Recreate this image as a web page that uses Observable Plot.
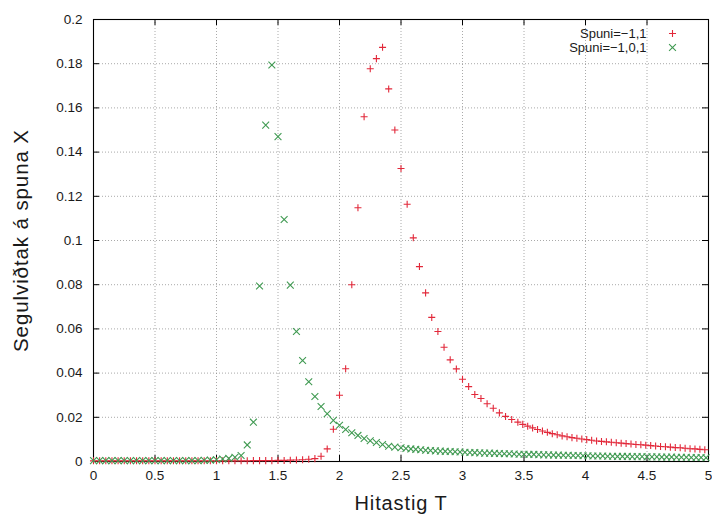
<!DOCTYPE html>
<html>
<head>
<meta charset="utf-8">
<script src="https://cdn.jsdelivr.net/npm/d3@7"></script>
<script src="https://cdn.jsdelivr.net/npm/@observablehq/plot@0.6"></script>
<style>
  html, body { margin: 0; padding: 0; background: #fff; }
  #chart { width: 712px; height: 515px; }
  .title-text { letter-spacing: 0.9px; }
</style>
</head>
<body>
<div id="chart"></div>
<script>
// Tick labels
const xTicks = [0, 0.5, 1, 1.5, 2, 2.5, 3, 3.5, 4, 4.5, 5];
const yTicks = [0, 0.02, 0.04, 0.06, 0.08, 0.1, 0.12, 0.14, 0.16, 0.18, 0.2];

// Series names
const seriesNames = ["Spuni=−1,1", "Spuni=−1,0,1"];
const xTitle = "Hitastig T";
const yTitle = "Segulviðtak á spuna X";

// Series 1: Spuni = -1,1 (red +)
const redT = [
  0, 0.05, 0.1, 0.15, 0.2, 0.25, 0.3, 0.35, 0.4, 0.45,
  0.5, 0.55, 0.6, 0.65, 0.7, 0.75, 0.8, 0.85, 0.9, 0.95,
  1, 1.05, 1.1, 1.15, 1.2, 1.25, 1.3, 1.35, 1.4,
  1.45, 1.5, 1.55, 1.6, 1.65, 1.7, 1.75,
  1.8, 1.85, 1.9, 1.95, 2, 2.05, 2.1, 2.15, 2.2, 2.25,
  2.3, 2.35, 2.4, 2.45, 2.5, 2.55, 2.6, 2.65, 2.7, 2.75,
  2.8, 2.85, 2.9, 2.95, 3, 3.05, 3.1, 3.15, 3.2, 3.25,
  3.3, 3.35, 3.4, 3.45,
  3.49, 3.53, 3.57, 3.61, 3.65, 3.69, 3.73, 3.77, 3.81, 3.85,
  3.89, 3.93, 3.97, 4.01, 4.05, 4.09, 4.13, 4.17, 4.21, 4.25,
  4.29, 4.33, 4.37, 4.41, 4.45, 4.49, 4.53, 4.57, 4.61, 4.65,
  4.69, 4.73, 4.77, 4.81, 4.85, 4.89, 4.93, 4.97
];
const redX = [
  0.0003, 0.0003, 0.0003, 0.0003, 0.0003, 0.0003, 0.0003, 0.0003, 0.0003, 0.0003,
  0.0003, 0.0003, 0.0003, 0.0003, 0.0003, 0.0003, 0.0003, 0.0003, 0.0003, 0.0003,
  0.0003, 0.0003, 0.0003, 0.0003, 0.0003, 0.0003, 0.0004, 0.0004, 0.0004,
  0.0004, 0.0005, 0.0005, 0.0006, 0.0007, 0.0008, 0.0010,
  0.0013, 0.0024, 0.0057, 0.0146, 0.0300, 0.0420, 0.0800, 0.1148, 0.1560, 0.1777,
  0.1823, 0.1874, 0.1686, 0.1500, 0.1326, 0.1164, 0.1012, 0.0882, 0.0763, 0.0652,
  0.0588, 0.0517, 0.0460, 0.0419, 0.0372, 0.0339, 0.0303, 0.0285, 0.0261, 0.0241,
  0.0220, 0.0204, 0.0190, 0.0178,
  0.0168, 0.0160, 0.0152, 0.0145, 0.0138, 0.0132, 0.0126, 0.0121, 0.0116, 0.0112,
  0.0108, 0.0105, 0.0102, 0.0099, 0.0096, 0.0093, 0.0091, 0.0089, 0.0087, 0.0085,
  0.0083, 0.0081, 0.0079, 0.0077, 0.0076, 0.0074, 0.0072, 0.0070, 0.0068, 0.0067,
  0.0065, 0.0063, 0.0062, 0.0060, 0.0058, 0.0057, 0.0055, 0.0053
];

// Series 2: Spuni = -1,0,1 (green x)
const greenT = [
  0, 0.05, 0.1, 0.15, 0.2, 0.25, 0.3, 0.35, 0.4, 0.45,
  0.5, 0.55, 0.6, 0.65, 0.7, 0.75, 0.8, 0.85, 0.9, 0.95,
  1, 1.05, 1.1, 1.15, 1.2, 1.25, 1.3, 1.35, 1.4, 1.45,
  1.5, 1.55, 1.6, 1.65, 1.7, 1.75, 1.8, 1.85, 1.9, 1.95,
  2, 2.05, 2.1, 2.15, 2.2, 2.25, 2.3, 2.35, 2.4, 2.45, 2.5,
  2.54, 2.58, 2.62, 2.66, 2.7, 2.74, 2.78, 2.82, 2.86, 2.9,
  2.94, 2.98, 3.02, 3.06, 3.1, 3.14, 3.18, 3.22, 3.26, 3.3,
  3.34, 3.38, 3.42, 3.46, 3.5, 3.54, 3.58, 3.62, 3.66, 3.7,
  3.74, 3.78, 3.82, 3.86, 3.9, 3.94, 3.98, 4.02, 4.06, 4.1,
  4.14, 4.18, 4.22, 4.26, 4.3, 4.34, 4.38, 4.42, 4.46, 4.5,
  4.54, 4.58, 4.62, 4.66, 4.7, 4.74, 4.78, 4.82, 4.86, 4.9,
  4.94, 4.98
];
const greenX = [
  0.0004, 0.0004, 0.0004, 0.0004, 0.0004, 0.0004, 0.0004, 0.0004, 0.0004, 0.0004,
  0.0004, 0.0004, 0.0004, 0.0004, 0.0004, 0.0004, 0.0004, 0.0004, 0.0005, 0.0006,
  0.0008, 0.0011, 0.0014, 0.0019, 0.0027, 0.0075, 0.0178, 0.0794, 0.1522, 0.1794,
  0.1470, 0.1095, 0.0798, 0.0588, 0.0457, 0.0361, 0.0294, 0.0249, 0.0216, 0.0186,
  0.0164, 0.0145, 0.0130, 0.0118, 0.0104, 0.0094, 0.0086, 0.0077, 0.0069, 0.0065, 0.0062,
  0.0059, 0.0057, 0.0055, 0.0053, 0.0051, 0.0050, 0.0048, 0.0047, 0.0046, 0.0045,
  0.0044, 0.0043, 0.0042, 0.0041, 0.0040, 0.0039, 0.0038, 0.0038, 0.0037, 0.0036,
  0.0035, 0.0035, 0.0034, 0.0033, 0.0033, 0.0032, 0.0032, 0.0031, 0.0030, 0.0030,
  0.0029, 0.0029, 0.0028, 0.0028, 0.0027, 0.0027, 0.0026, 0.0026, 0.0025, 0.0025,
  0.0025, 0.0024, 0.0024, 0.0023, 0.0023, 0.0023, 0.0022, 0.0022, 0.0022, 0.0021,
  0.0021, 0.0021, 0.0020, 0.0020, 0.0020, 0.0019, 0.0019, 0.0019, 0.0018, 0.0018,
  0.0018, 0.0017
];

const red = redT.map((T, i) => ({T, X: redX[i]})).filter(d => d.X != null);
const green = greenT.map((T, i) => ({T, X: greenX[i]})).filter(d => d.X != null);

const W = 712, H = 515;
const M = {top: 19, right: 4, bottom: 54, left: 93};
const plotW = W - M.left - M.right;
const plotH = H - M.top - M.bottom;
const tickLen = 6;
const redColor = "#e2283a";
const greenColor = "#409a52";
const fontFam = "'Liberation Sans', Arial, Helvetica, sans-serif";

const chart = Plot.plot({
  width: W,
  height: H,
  marginTop: M.top,
  marginRight: M.right,
  marginBottom: M.bottom,
  marginLeft: M.left,
  style: {fontFamily: fontFam, fontSize: "13.5px", color: "#1a1a1a", background: "#fff"},
  x: {domain: [0, 5]},
  y: {domain: [0, 0.2]},
  marks: [
    Plot.gridX(xTicks, {stroke: "#888", strokeOpacity: 0.9, strokeWidth: 0.8, strokeDasharray: "1,2"}),
    Plot.gridY(yTicks, {stroke: "#888", strokeOpacity: 0.9, strokeWidth: 0.8, strokeDasharray: "1,2"}),
    Plot.axisX(xTicks, {tickSize: 0, tickPadding: 9, tickFormat: d => String(d), label: null, fontSize: 13.5}),
    Plot.axisY(yTicks, {tickSize: 0, tickPadding: 11, tickFormat: d => String(d), label: null, fontSize: 13.5}),
    // inward ticks on all four sides
    Plot.ruleX(xTicks, {x: d => d, insetTop: plotH - tickLen, stroke: "#000"}),
    Plot.ruleX(xTicks, {x: d => d, insetBottom: plotH - tickLen, stroke: "#000"}),
    Plot.ruleY(yTicks, {y: d => d, insetRight: plotW - tickLen, stroke: "#000"}),
    Plot.ruleY(yTicks, {y: d => d, insetLeft: plotW - tickLen, stroke: "#000"}),
    Plot.frame({stroke: "#000", strokeWidth: 1.1}),
    // data
    Plot.dot(red, {x: "T", y: "X", symbol: "plus", r: 2.4, stroke: redColor, strokeWidth: 1.1}),
    Plot.dot(green, {x: "T", y: "X", symbol: "times", r: 3.2, stroke: greenColor, strokeWidth: 1.1}),
    // legend
    Plot.text([seriesNames[0]], {text: d => d, frameAnchor: "top-right", dx: -62, dy: 14, textAnchor: "end", lineAnchor: "middle", fontSize: 13, fill: "#1a1a1a"}),
    Plot.text([seriesNames[1]], {text: d => d, frameAnchor: "top-right", dx: -62, dy: 28, textAnchor: "end", lineAnchor: "middle", fontSize: 13, fill: "#1a1a1a"}),
    Plot.dot([seriesNames[0]], {frameAnchor: "top-right", dx: -36, dy: 14, symbol: "plus", r: 2.4, stroke: redColor, strokeWidth: 1.1}),
    Plot.dot([seriesNames[1]], {frameAnchor: "top-right", dx: -36, dy: 28, symbol: "times", r: 3.2, stroke: greenColor, strokeWidth: 1.1}),
    // axis titles
    Plot.text([xTitle], {text: d => d, frameAnchor: "bottom", dy: 42, textAnchor: "middle", lineAnchor: "middle", fontSize: 20, fill: "#1a1a1a", className: "title-text"}),
    Plot.text([yTitle], {text: d => d, frameAnchor: "left", dx: -72, rotate: -90, textAnchor: "middle", lineAnchor: "middle", fontSize: 20.5, fill: "#1a1a1a", className: "title-text"})
  ]
});

document.getElementById("chart").appendChild(chart);
</script>
</body>
</html>
